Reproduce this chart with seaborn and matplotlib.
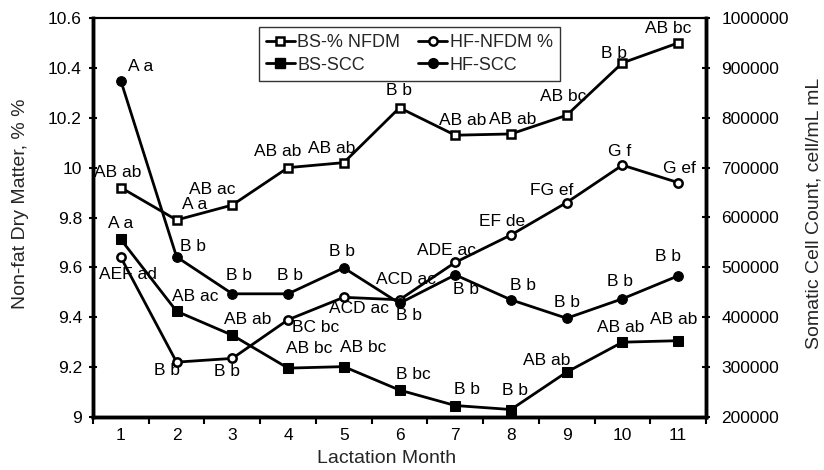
import numpy as np
import pandas as pd
import matplotlib
matplotlib.use('Agg')
import matplotlib.pyplot as plt
import seaborn as sns
from matplotlib.ticker import FuncFormatter
from matplotlib.lines import Line2D

# --- data ---
months = list(range(1, 12))
bs_nfdm = [9.92, 9.79, 9.85, 10.00, 10.02, 10.24, 10.13, 10.135, 10.21, 10.42, 10.50]
hf_nfdm = [9.64, 9.22, 9.235, 9.39, 9.48, 9.47, 9.62, 9.73, 9.86, 10.01, 9.94]
bs_scc = [556000, 412000, 364000, 298000, 301000, 254000, 223000, 215000, 290000, 350000, 353000]
hf_scc = [874000, 521000, 447000, 447000, 499000, 428000, 485000, 435000, 398000, 437000, 483000]

bs_nfdm_lbl = ['AB ab', 'A a', 'AB ac', 'AB ab', 'AB ab', 'B b', 'AB ab', 'AB ab', 'AB bc', 'B b', 'AB bc']
hf_nfdm_lbl = ['AEF ad', 'B b', 'B b', 'BC bc', 'ACD ac', 'ACD ac', 'ADE ac', 'EF de', 'FG ef', 'G f', 'G ef']
bs_scc_lbl = ['A a', 'AB ac', 'AB ab', 'AB bc', 'AB bc', 'B bc', 'B b', 'B b', 'AB ab', 'AB ab', 'AB ab']
hf_scc_lbl = ['A a', 'B b', 'B b', 'B b', 'B b', 'B b', 'B b', 'B b', 'B b', 'B b', 'B b']

# label offsets in pixels (dx, dy), dy up
bs_nfdm_off = [(-3, 15), (18, 15), (-20, 16), (-10, 16), (-12, 14), (0, 17), (7, 15), (2, 14), (-3, 19), (-8, 9), (-10, 14)]
hf_nfdm_off = [(7, -17), (-10, -8), (-5, -13), (28, -8), (15, -11), (6, 20), (-9, 12), (-9, 13), (-15, 12), (-3, 14), (1, 14)]
bs_scc_off = [(0, 16), (19, 15), (15, 16), (21, 20), (19, 19), (14, 16), (12, 16), (4, 19), (-20, 12), (-2, 15), (-4, 21)]
hf_scc_off = [(20, 14), (16, 10), (7, 18), (2, 18), (-2, 16), (9, -12), (11, -15), (12, 14), (0, 16), (-2, 17), (-10, 19)]

df = pd.DataFrame({'Month': months, 'BS_NFDM': bs_nfdm, 'HF_NFDM': hf_nfdm,
                   'BS_SCC': bs_scc, 'HF_SCC': hf_scc})

sns.set_theme(style='white')
plt.rcParams['font.family'] = ['Liberation Sans', 'DejaVu Sans']

fig = plt.figure(figsize=(8.24, 4.70), dpi=100)
ax = fig.add_axes([93 / 824, 53 / 470, 613 / 824, 399 / 470])
ax2 = ax.twinx()

line_kw = dict(color='black', lw=2.0)
sns.lineplot(data=df, x='Month', y='BS_NFDM', ax=ax, marker='s', ms=6,
             mfc='white', mec='black', mew=1.8, **line_kw)
sns.lineplot(data=df, x='Month', y='HF_NFDM', ax=ax, marker='o', ms=6,
             mfc='white', mec='black', mew=1.8, **line_kw)
sns.lineplot(data=df, x='Month', y='BS_SCC', ax=ax2, marker='s', ms=7,
             mfc='black', mec='black', **line_kw)
sns.lineplot(data=df, x='Month', y='HF_SCC', ax=ax2, marker='o', ms=7,
             mfc='black', mec='black', **line_kw)

def annotate(axis, ys, labels, offs):
    for x, y, t, (dx, dy) in zip(months, ys, labels, offs):
        axis.annotate(t, (x, y), xytext=(dx, dy), textcoords='offset pixels',
                      ha='center', va='center', fontsize=12.5, color='black')

annotate(ax, bs_nfdm, bs_nfdm_lbl, bs_nfdm_off)
annotate(ax, hf_nfdm, hf_nfdm_lbl, hf_nfdm_off)
annotate(ax2, bs_scc, bs_scc_lbl, bs_scc_off)
annotate(ax2, hf_scc, hf_scc_lbl, hf_scc_off)

ax.set_xlim(0.5, 11.5)
ax.set_ylim(9, 10.6)
ax2.set_ylim(200000, 1000000)

ax.set_xticks(months)
ax.set_xticks(np.arange(0.5, 12, 1), minor=True)
ax.tick_params(axis='x', which='major', length=0, pad=8, labelsize=12.5, colors='black')
ax.tick_params(axis='x', which='minor', length=5, width=1.5, direction='out', color='black', bottom=True)
ax.set_yticks(np.arange(9, 10.61, 0.2))
ax.yaxis.set_major_formatter(FuncFormatter(lambda v, p: f'{v:g}'))
ax.tick_params(axis='y', length=6, width=1.5, direction='inout', pad=5, labelsize=12.5, colors='black', left=True)
ax2.set_yticks(np.arange(200000, 1000001, 100000))
ax2.yaxis.set_major_formatter(FuncFormatter(lambda v, p: f'{int(v)}'))
ax2.tick_params(axis='y', length=6, width=1.5, direction='inout', pad=8, labelsize=12.5, colors='black', right=True)

for a in (ax, ax2):
    for side in ('left', 'right', 'bottom'):
        a.spines[side].set_linewidth(2.5)
        a.spines[side].set_color('black')
    a.spines['top'].set_linewidth(1.5)
    a.spines['top'].set_color('black')
    a.grid(False)

ax.set_xlabel('Lactation Month', fontsize=14)
ax.xaxis.set_label_coords(0.479, -0.082)
ax.set_ylabel('Non-fat Dry Matter, % %', fontsize=14)
ax.yaxis.set_label_coords(-0.104, 0.535)
ax2.set_ylabel('Somatic Cell Count, cell/mL mL', fontsize=14, rotation=90, va='center')
ax2.yaxis.set_label_coords(1.176, 0.51)

handles = [
    Line2D([], [], color='black', lw=2, marker='s', ms=6, mfc='white', mec='black', mew=1.8),
    Line2D([], [], color='black', lw=2, marker='s', ms=7, mfc='black', mec='black'),
    Line2D([], [], color='black', lw=2, marker='o', ms=6, mfc='white', mec='black', mew=1.8),
    Line2D([], [], color='black', lw=2, marker='o', ms=7, mfc='black', mec='black'),
]
labels = ['BS-% NFDM', 'BS-SCC', 'HF-NFDM %', 'HF-SCC']
leg = ax2.legend(handles, labels, ncol=2, loc='upper left', bbox_to_anchor=(0.270, 0.977),
                 fontsize=13, frameon=True, fancybox=False, edgecolor='black',
                 handlelength=1.6, handletextpad=0.15, columnspacing=1.0,
                 borderpad=0.4, labelspacing=0.3, borderaxespad=0)
leg.get_frame().set_linewidth(1.0)

fig.savefig('out.png', dpi=100)
